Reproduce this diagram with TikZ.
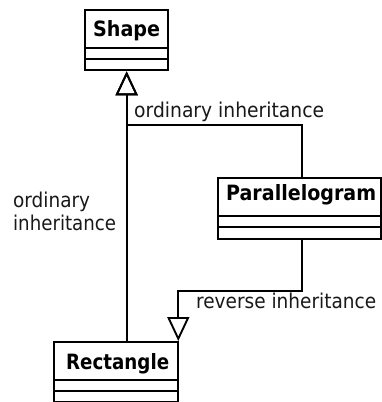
\documentclass[tikz,border=0pt]{standalone}
\usepackage{fontspec}
\setmainfont{DejaVu Sans}
\usetikzlibrary{arrows.meta,calc}
\begin{document}
\begin{tikzpicture}[x=1pt,y=-1pt,
  line width=2.3pt,
  classbox/.style={draw=black, fill=white, inner sep=0pt, anchor=north west},
  cname/.style={inner sep=0pt, anchor=base, font=\bfseries, text=black},
  lbl/.style={inner sep=0pt, anchor=base west, text=black!90},
  inh/.style={-{Triangle[open, length=24pt, width=22pt, line width=1.9pt]}, line join=miter},
  divider/.style={draw=black}
]
% canvas
\fill[white] (0,0) rectangle (381,402);
\useasboundingbox (0,0) rectangle (381,402);

% class boxes (outer frame, then compartments)
\node[classbox, minimum width=83pt, minimum height=60pt] (shape) at (84,9) {};
\draw[divider] ($(shape.north west)+(0,39)$) -- ++(83,0);
\draw[divider] ($(shape.north west)+(0,50)$) -- ++(83,0);
\node[cname] (shapename) at ($(shape.north)+(0,27)$) {\resizebox{67pt}{16pt}{Shape}};

\node[classbox, minimum width=163pt, minimum height=61pt] (para) at (217,177) {};
\draw[divider] ($(para.north west)+(0,39)$) -- ++(163,0);
\draw[divider] ($(para.north west)+(0,50)$) -- ++(163,0);
\node[cname] (paraname) at ($(para.north)+(1.5,23)$) {\resizebox{150pt}{16pt}{Parallelogram}};

\node[classbox, minimum width=124pt, minimum height=60pt] (rect) at (53,341) {};
\draw[divider] ($(rect.north west)+(0,39)$) -- ++(124,0);
\draw[divider] ($(rect.north west)+(0,50)$) -- ++(124,0);
\node[cname] (rectname) at ($(rect.north)+(1.5,28)$) {\resizebox{103pt}{16pt}{Rectangle}};

% generalisation connectors
\draw[inh] (rect.north -| shape.south) -- (shape.south);
\draw[inh] ($(para.north)+(2.5,0)$) -- ++(0,-52) -| (shape.south);
\draw[inh] ($(para.south)+(2.5,0)$) -- ++(0,51) -| ($(rect.north east)+(-1,0)$);

% connector labels
\node[lbl] (lblA) at (133,117) {\resizebox{190pt}{15.5pt}{ordinary inheritance}};
\node[lbl] (lblB1) at (12,207) {\resizebox{77pt}{15.5pt}{ordinary}};
\node[lbl] (lblB2) at (12,230) {\resizebox{103pt}{15.5pt}{inheritance}};
\node[lbl] (lblC) at (195,308) {\resizebox{180pt}{15.5pt}{reverse inheritance}};
\end{tikzpicture}
\end{document}
